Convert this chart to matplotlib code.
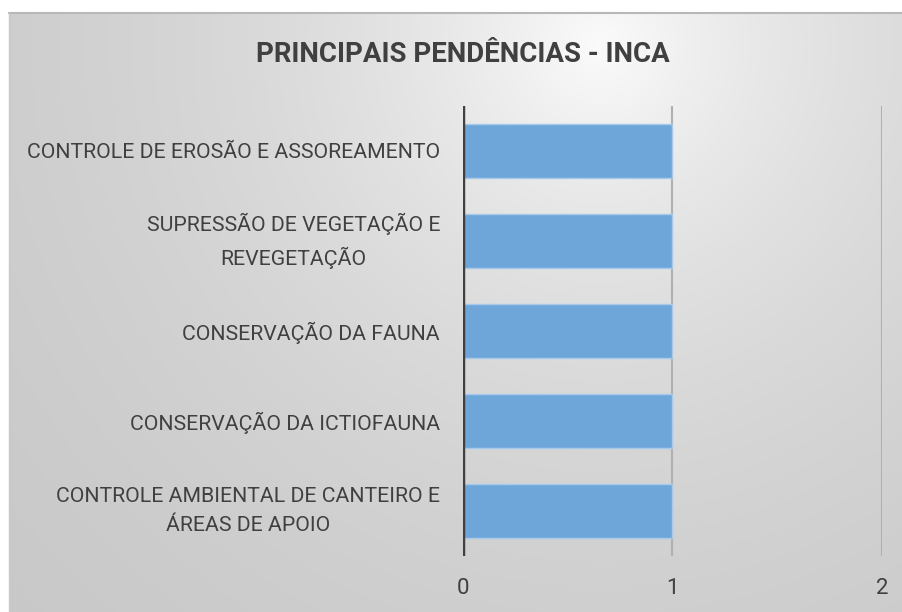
import numpy as np
import matplotlib
matplotlib.use("Agg")
import matplotlib.pyplot as plt

categories = [
    "CONTROLE DE EROSÃO E ASSOREAMENTO",
    "SUPRESSÃO DE VEGETAÇÃO E\nREVEGETAÇÃO",
    "CONSERVAÇÃO DA FAUNA",
    "CONSERVAÇÃO DA ICTIOFAUNA",
    "CONTROLE AMBIENTAL DE CANTEIRO E\nÁREAS DE APOIO",
]
values = [1, 1, 1, 1, 1]
xticks = [0, 1, 2]
title = "PRINCIPAIS PENDÊNCIAS - INCA"

W, H = 903, 612
fig = plt.figure(figsize=(W / 100, H / 100), dpi=100)
fig.patch.set_facecolor("white")
FONT = ["Roboto", "DejaVu Sans"]
TXT = "#404040"

# background gradient panel
x0, y0 = 9, 13
bg = fig.add_axes([x0 / W, 0, 1 - x0 / W, 1 - y0 / H])
bg.set_axis_off()
yy, xx = np.mgrid[y0:H, x0:W].astype(float)
cx, cy = 600.0, 45.0
d = np.sqrt((xx - cx) ** 2 + (yy - cy) ** 2)
v = 251 - 58 * (1 - np.exp(-d / 400.0))
img = np.dstack([v, v, v]) / 255.0
bg.imshow(img, aspect="auto", extent=[0, 1, 0, 1], origin="upper")
bg.set_xlim(0, 1)
bg.set_ylim(0, 1)
bg.plot([0, 1], [1, 1], color="#b8b8b8", lw=1.5, transform=bg.transAxes, clip_on=False)
bg.plot([0, 0], [0, 1], color="#c8c8c8", lw=1.0, transform=bg.transAxes, clip_on=False)

left, right, top, bottom = 463, 882, 106, 556
ax = fig.add_axes([left / W, 1 - bottom / H, (right - left) / W, (bottom - top) / H])
ax.set_facecolor("none")
ypos = np.arange(len(categories))
ax.barh(ypos, values, height=0.61, color="#6FA6DA", edgecolor="#A8CAEA", linewidth=1.0, zorder=3)
ax.set_ylim(len(categories) - 0.5, -0.5)
ax.set_xlim(xticks[0], xticks[-1])
ax.set_xticks(xticks)
for xv in xticks[1:]:
    ax.axvline(xv, color="#b0b0b0", lw=1.5, zorder=1)
ax.axvline(0, color="#404040", lw=3.2, zorder=4)
for s in ax.spines.values():
    s.set_visible(False)
ax.tick_params(axis="both", length=0)
ax.set_yticks(ypos)
ax.set_yticklabels(categories, fontfamily=FONT, fontsize=15.5, color=TXT)
ax.tick_params(axis="y", pad=16.5)
ax.set_xticklabels([str(t) for t in xticks], fontfamily=FONT, fontsize=16, color=TXT)
ax.tick_params(axis="x", pad=16)

t = fig.text(463 / W, 1 - 54 / H, title, ha="center", va="center",
             fontfamily=FONT, fontweight="bold", fontsize=19, color=TXT)

# fit font sizes to reference widths
fig.canvas.draw()
r = fig.canvas.get_renderer()
tw = t.get_window_extent(r).width
t.set_fontsize(19 * 413 / tw)
lab0 = ax.get_yticklabels()[0]
lw0 = lab0.get_window_extent(r).width
fs = 15.5 * 413 / lw0
for lab in ax.get_yticklabels():
    lab.set_fontsize(fs)
    if "\n" in lab.get_text():
        lab.set_multialignment("center")
        lab.set_linespacing(1.62)
        lab.set_verticalalignment("center")

fig.savefig("out.png", dpi=100, facecolor="white")
